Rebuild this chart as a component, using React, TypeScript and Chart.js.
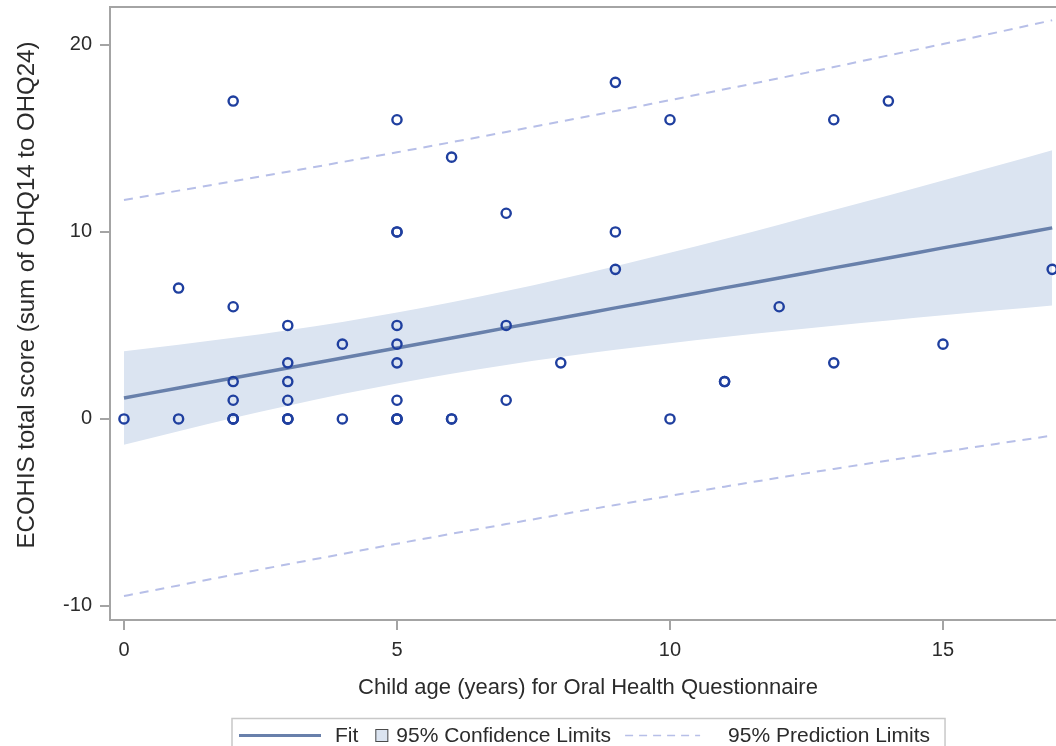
import React, { useEffect, useRef } from "react";
import { Chart, registerables, ScatterController, LineController } from "chart.js";

// Controllers that do not reserve extra layout padding for point overflow,
// so the plot area can run to the canvas edge like the reference.
class EdgeScatterController extends ScatterController {
  getMaxOverflow() {
    return 0;
  }
}
(EdgeScatterController as any).id = "edgeScatter";
(EdgeScatterController as any).defaults = (ScatterController as any).defaults;
(EdgeScatterController as any).overrides = (ScatterController as any).overrides;

class EdgeLineController extends LineController {
  getMaxOverflow() {
    return 0;
  }
}
(EdgeLineController as any).id = "edgeLine";
(EdgeLineController as any).defaults = (LineController as any).defaults;
(EdgeLineController as any).overrides = (LineController as any).overrides;

Chart.register(...registerables, EdgeScatterController, EdgeLineController);

const FONT = "'Liberation Sans', Arial, Helvetica, sans-serif";

// Observed data: child age (x) vs ECOHIS score (y); repeated pairs listed more than once
const ageX = [0, 1, 1, 2, 2, 2, 2, 2, 2, 2, 3, 3, 3, 3, 3, 3, 3, 4, 4, 5, 5, 5, 5, 5, 5, 5, 5, 5, 5, 6, 6, 6, 7, 7, 7, 8, 9, 9, 9, 10, 10, 11, 11, 12, 13, 13, 14, 15, 17];
const scoreY = [0, 7, 0, 17, 6, 2, 1, 0, 0, 0, 5, 3, 2, 1, 0, 0, 0, 4, 0, 16, 10, 10, 5, 4, 3, 1, 0, 0, 0, 14, 0, 0, 11, 5, 1, 3, 18, 10, 8, 16, 0, 2, 2, 6, 16, 3, 17, 4, 8];

// Regression fit, confidence band and prediction band, read at each integer age
const bandX = [0, 1, 2, 3, 4, 5, 6, 7, 8, 9, 10, 11, 12, 13, 14, 15, 16, 17];
const fitY = [1.12, 1.66, 2.19, 2.73, 3.26, 3.8, 4.33, 4.87, 5.4, 5.94, 6.47, 7.01, 7.54, 8.08, 8.61, 9.15, 9.68, 10.22];
const clUpper = [3.62, 3.97, 4.34, 4.75, 5.19, 5.69, 6.24, 6.84, 7.49, 8.17, 8.89, 9.63, 10.39, 11.17, 11.95, 12.75, 13.55, 14.37];
const clLower = [-1.38, -0.66, 0.05, 0.71, 1.33, 1.9, 2.42, 2.89, 3.31, 3.7, 4.05, 4.38, 4.69, 4.99, 5.27, 5.54, 5.81, 6.07];
const plUpper = [11.71, 12.21, 12.71, 13.22, 13.74, 14.26, 14.8, 15.35, 15.91, 16.47, 17.05, 17.63, 18.22, 18.82, 19.44, 20.05, 20.68, 21.32];
const plLower = [-9.47, -8.9, -8.33, -7.77, -7.22, -6.67, -6.14, -5.62, -5.11, -4.6, -4.11, -3.62, -3.14, -2.67, -2.22, -1.76, -1.32, -0.89];

const xTicks = [0, 5, 10, 15];
const yTicks = [-10, 0, 10, 20];
const xTitle = "Child age (years) for Oral Health Questionnaire";
const yTitle = "ECOHIS total score (sum of OHQ14 to OHQ24)";
const legendLabels = ["Fit", "95% Confidence Limits", "95% Prediction Limits"];

const POINT_COLOR = "#1f3f9f";
const FIT_COLOR = "#6880ab";
const BAND_COLOR = "#dbe4f1";
const PRED_COLOR = "#b7bfe8";
const AXIS_COLOR = "#a4a4a4";
const TEXT_COLOR = "#2b2b2b";

const pairs = (xs: number[], ys: number[]) => xs.map((x, i) => ({ x, y: ys[i] }));

const framePlugin = {
  id: "topFrameAndTitles",
  afterDraw(chart: any) {
    const { ctx, chartArea } = chart;
    ctx.save();
    ctx.strokeStyle = AXIS_COLOR;
    ctx.lineWidth = 2;
    ctx.beginPath();
    ctx.moveTo(chartArea.left, chartArea.top);
    ctx.lineTo(chartArea.right, chartArea.top);
    ctx.stroke();
    ctx.fillStyle = TEXT_COLOR;
    ctx.textAlign = "center";
    ctx.textBaseline = "middle";
    // x axis title
    ctx.font = `22px ${FONT}`;
    ctx.fillText(xTitle, 588, 688);
    // y axis title (rotated)
    ctx.translate(27, 295);
    ctx.rotate(-Math.PI / 2);
    ctx.font = `24px ${FONT}`;
    ctx.fillText(yTitle, 0, 0);
    ctx.restore();
  },
};

const legendPlugin = {
  id: "boxLegend",
  afterDraw(chart: any) {
    const { ctx, chartArea } = chart;
    ctx.save();
    ctx.font = `21px ${FONT}`;
    const w = legendLabels.map((t) => ctx.measureText(t).width);
    const total = 7 + 82 + 14 + w[0] + 17 + 13 + 8 + w[1] + 14 + 75 + 28 + w[2] + 15;
    const cx = (chartArea.left + chartArea.right) / 2 + 6;
    let x = Math.round(cx - total / 2);
    const top = 718.5;
    const midY = 735.5;
    ctx.strokeStyle = "#c8c8c8";
    ctx.lineWidth = 1.5;
    ctx.strokeRect(x, top, total, 40);
    x += 7;
    // fit line sample
    ctx.strokeStyle = FIT_COLOR;
    ctx.lineWidth = 3;
    ctx.beginPath();
    ctx.moveTo(x, midY);
    ctx.lineTo(x + 82, midY);
    ctx.stroke();
    x += 82 + 14;
    ctx.fillStyle = TEXT_COLOR;
    ctx.textBaseline = "middle";
    ctx.textAlign = "left";
    ctx.fillText(legendLabels[0], x, midY + 1);
    x += w[0] + 17;
    // confidence swatch
    ctx.fillStyle = BAND_COLOR;
    ctx.fillRect(x, midY - 6.5, 13, 13);
    ctx.strokeStyle = "#4a4a4a";
    ctx.lineWidth = 1;
    ctx.strokeRect(x + 0.5, midY - 6, 12, 12);
    x += 13 + 8;
    ctx.fillStyle = TEXT_COLOR;
    ctx.fillText(legendLabels[1], x, midY + 1);
    x += w[1] + 14;
    // prediction dashed sample
    ctx.strokeStyle = PRED_COLOR;
    ctx.lineWidth = 1.5;
    ctx.setLineDash([8, 6]);
    ctx.beginPath();
    ctx.moveTo(x, midY);
    ctx.lineTo(x + 75, midY);
    ctx.stroke();
    ctx.setLineDash([]);
    x += 75 + 28;
    ctx.fillStyle = TEXT_COLOR;
    ctx.fillText(legendLabels[2], x, midY + 1);
    ctx.restore();
  },
};

export default function App() {
  const ref = useRef<HTMLCanvasElement>(null);

  useEffect(() => {
    const canvas = ref.current;
    if (!canvas) return;
    const lineBase = {
      type: "edgeLine",
      pointRadius: 0,
      pointHoverRadius: 0,
      cubicInterpolationMode: "monotone" as const,
    };
    const zeroPad = (s: any) => {
      s.paddingTop = 0;
      s.paddingBottom = 0;
      s.paddingLeft = 0;
      s.paddingRight = 0;
    };
    const chart = new Chart(canvas, {
      type: "edgeScatter" as any,
      data: {
        datasets: [
          {
            label: "Observed",
            data: pairs(ageX, scoreY),
            pointStyle: "circle",
            pointRadius: 4.6,
            pointBorderWidth: 2.4,
            borderColor: POINT_COLOR,
            backgroundColor: "rgba(0,0,0,0)",
            pointBackgroundColor: "rgba(0,0,0,0)",
            pointBorderColor: POINT_COLOR,
            showLine: false,
          } as any,
          {
            ...lineBase,
            label: "Fit",
            data: pairs(bandX, fitY),
            borderColor: FIT_COLOR,
            borderWidth: 3.5,
            fill: false,
          } as any,
          {
            ...lineBase,
            label: "95% Prediction Limits (upper)",
            data: pairs(bandX, plUpper),
            borderColor: PRED_COLOR,
            borderWidth: 2,
            borderDash: [9, 7],
            fill: false,
          } as any,
          {
            ...lineBase,
            label: "95% Prediction Limits (lower)",
            data: pairs(bandX, plLower),
            borderColor: PRED_COLOR,
            borderWidth: 2,
            borderDash: [9, 7],
            fill: false,
          } as any,
          {
            ...lineBase,
            label: "95% Confidence Limits (upper)",
            data: pairs(bandX, clUpper),
            borderWidth: 0,
            borderColor: "rgba(0,0,0,0)",
            backgroundColor: BAND_COLOR,
            fill: "+1",
          } as any,
          {
            ...lineBase,
            label: "95% Confidence Limits (lower)",
            data: pairs(bandX, clLower),
            borderWidth: 0,
            borderColor: "rgba(0,0,0,0)",
            backgroundColor: BAND_COLOR,
            fill: false,
          } as any,
        ],
      },
      options: {
        animation: false,
        responsive: false,
        devicePixelRatio: 1,
        layout: { padding: { top: 7, left: 0, right: 0, bottom: 40 } },
        plugins: {
          legend: { display: false },
          tooltip: { enabled: false },
        },
        scales: {
          x: {
            type: "linear",
            position: "bottom",
            min: -0.256,
            max: 17.07,
            afterBuildTicks: (s: any) => {
              s.ticks = xTicks.map((v) => ({ value: v }));
            },
            afterFit: (s: any) => {
              s.height = 86;
              zeroPad(s);
            },
            grid: {
              drawOnChartArea: false,
              drawTicks: true,
              tickLength: 10,
              color: AXIS_COLOR,
              lineWidth: 2,
            },
            border: { display: true, color: AXIS_COLOR, width: 2 },
            ticks: {
              padding: 8,
              color: TEXT_COLOR,
              font: { family: FONT, size: 20 },
              maxRotation: 0,
            },
            title: { display: false, text: xTitle },
          },
          y: {
            type: "linear",
            position: "left",
            min: -10.75,
            max: 22.03,
            afterBuildTicks: (s: any) => {
              s.ticks = yTicks.map((v) => ({ value: v }));
            },
            afterFit: (s: any) => {
              s.width = 110;
              zeroPad(s);
            },
            grid: {
              drawOnChartArea: false,
              drawTicks: true,
              tickLength: 10,
              color: AXIS_COLOR,
              lineWidth: 2,
            },
            border: { display: true, color: AXIS_COLOR, width: 2 },
            ticks: {
              padding: 8,
              color: TEXT_COLOR,
              font: { family: FONT, size: 20 },
            },
            title: { display: false, text: yTitle },
          },
        },
      },
      plugins: [framePlugin, legendPlugin],
    });
    return () => chart.destroy();
  }, []);

  return (
    <div style={{ position: "absolute", left: 0, top: 0, width: 1056, height: 746, background: "#ffffff", overflow: "hidden" }}>
      <canvas ref={ref} width={1056} height={746} style={{ display: "block", width: 1056, height: 746 }} />
    </div>
  );
}
